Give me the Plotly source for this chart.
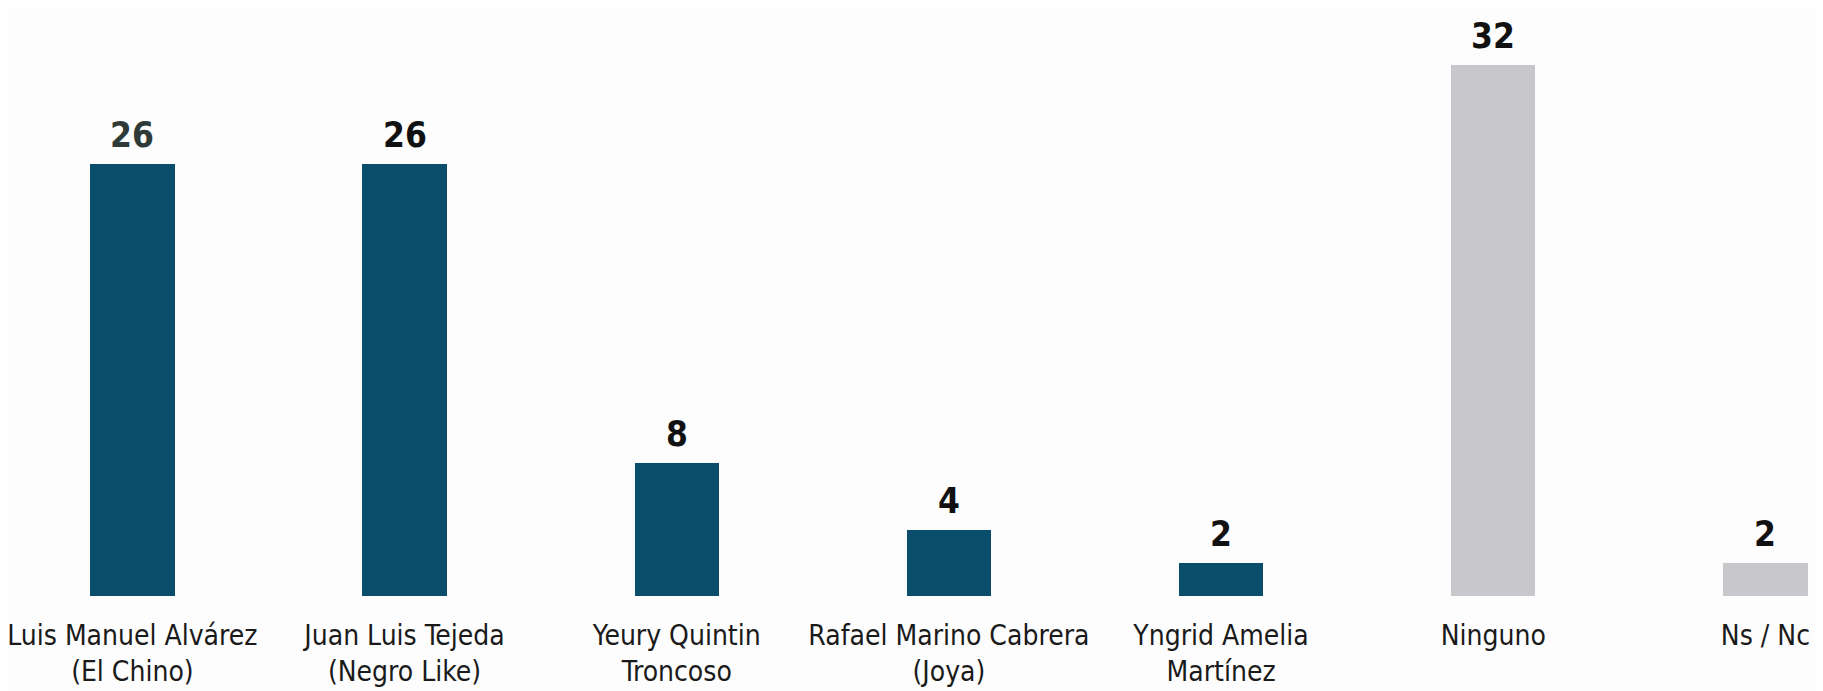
import plotly.graph_objects as go

categories = [
    "Luis Manuel Alvárez<br>(El Chino)",
    "Juan Luis Tejeda<br>(Negro Like)",
    "Yeury Quintin<br>Troncoso",
    "Rafael Marino Cabrera<br>(Joya)",
    "Yngrid Amelia<br>Martínez",
    "Ninguno",
    "Ns / Nc",
]
values = [26, 26, 8, 4, 2, 32, 2]
bar_colors = ["#0b4e6b", "#0b4e6b", "#0b4e6b", "#0b4e6b", "#0b4e6b", "#c8c8cc", "#c8c8cc"]
label_colors = ["#2e3a37", "#111111", "#111111", "#111111", "#111111", "#111111", "#111111"]

W, H = 1823, 691
fig = go.Figure()
fig.add_trace(go.Bar(
    x=list(range(len(categories))), y=values,
    marker=dict(color=bar_colors, line=dict(width=0)),
    width=0.31,
))

for i, (v, c) in enumerate(zip(values, label_colors)):
    fig.add_annotation(
        x=i, y=v, text=str(v), showarrow=False,
        yanchor="bottom", yshift=7,
        font=dict(family="DejaVu Sans Condensed, sans-serif",
                  size=35, color=c, weight="bold"),
    )

plot_bottom = 588
t = 20
plot_h = plot_bottom - t
px_per_unit = 16.6
fig.update_layout(
    width=W, height=H,
    margin=dict(l=0, r=0, t=t, b=H - plot_bottom),
    paper_bgcolor="#fdfdfd", plot_bgcolor="#fdfdfd",
    showlegend=False,
    bargap=0,
    xaxis=dict(
        tickmode="array", tickvals=list(range(len(categories))), ticktext=categories,
        range=[-0.457, 6.241], showgrid=False, zeroline=False, showline=False,
        ticks="", ticklabelstandoff=20, ticklabeloverflow="allow",
        tickfont=dict(family="DejaVu Sans Condensed, sans-serif",
                      size=28, color="#1a1a1a"),
    ),
    yaxis=dict(
        range=[0, plot_h / px_per_unit], visible=False, showgrid=False, zeroline=False,
    ),
)
fig.write_html("out.html")
